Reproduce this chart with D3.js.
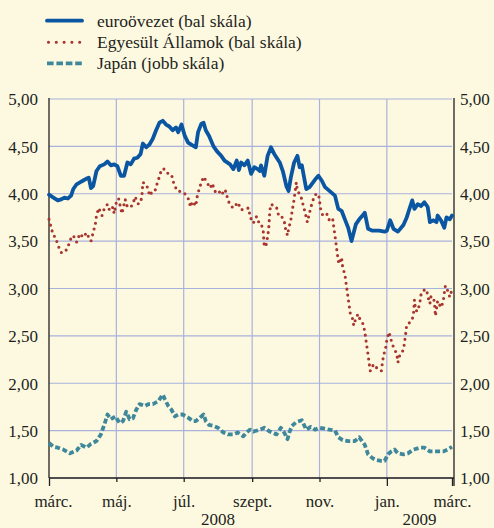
<!DOCTYPE html>
<html>
<head>
<meta charset="utf-8">
<script src="https://cdn.jsdelivr.net/npm/d3@7"></script>
<style>
    body { margin: 0; background: #fdf9e0; }
    svg { display: block; }
    svg text { font-family: "Liberation Serif", "DejaVu Serif", serif; }
</style>
</head>
<body>
<div id="chart"></div>
<script>
// 10 éves államkötvényhozamok, %
const euroArea = [
    ["2008-03-01", 3.99], ["2008-03-05", 3.96], ["2008-03-09", 3.93], ["2008-03-12", 3.94], ["2008-03-15", 3.96],
    ["2008-03-18", 3.95], ["2008-03-21", 3.98], ["2008-03-23", 4.05], ["2008-03-26", 4.10], ["2008-03-29", 4.12],
    ["2008-04-01", 4.14], ["2008-04-04", 4.16], ["2008-04-06", 4.17], ["2008-04-08", 4.06], ["2008-04-10", 4.08],
    ["2008-04-13", 4.24], ["2008-04-16", 4.29], ["2008-04-20", 4.31], ["2008-04-23", 4.34], ["2008-04-26", 4.30],
    ["2008-04-29", 4.31], ["2008-05-02", 4.29], ["2008-05-05", 4.19], ["2008-05-08", 4.19], ["2008-05-11", 4.33],
    ["2008-05-14", 4.31], ["2008-05-17", 4.37], ["2008-05-20", 4.38], ["2008-05-23", 4.42], ["2008-05-25", 4.53],
    ["2008-05-28", 4.49], ["2008-05-31", 4.52], ["2008-06-03", 4.58], ["2008-06-06", 4.67], ["2008-06-09", 4.75],
    ["2008-06-12", 4.77], ["2008-06-15", 4.73], ["2008-06-18", 4.71], ["2008-06-21", 4.67], ["2008-06-24", 4.70],
    ["2008-06-26", 4.65], ["2008-06-29", 4.73], ["2008-07-02", 4.61], ["2008-07-05", 4.54], ["2008-07-09", 4.51],
    ["2008-07-12", 4.49], ["2008-07-14", 4.65], ["2008-07-17", 4.74], ["2008-07-19", 4.75], ["2008-07-21", 4.67],
    ["2008-07-24", 4.61], ["2008-07-28", 4.50], ["2008-07-31", 4.45], ["2008-08-04", 4.40], ["2008-08-07", 4.35],
    ["2008-08-12", 4.31], ["2008-08-15", 4.26], ["2008-08-18", 4.35], ["2008-08-20", 4.25], ["2008-08-22", 4.33],
    ["2008-08-25", 4.30], ["2008-08-28", 4.35], ["2008-08-31", 4.21], ["2008-09-03", 4.28], ["2008-09-06", 4.26],
    ["2008-09-08", 4.24], ["2008-09-09", 4.30], ["2008-09-12", 4.19], ["2008-09-15", 4.40], ["2008-09-18", 4.49],
    ["2008-09-21", 4.42], ["2008-09-26", 4.33], ["2008-09-29", 4.23], ["2008-10-02", 4.08], ["2008-10-04", 4.03],
    ["2008-10-06", 4.17], ["2008-10-09", 4.33], ["2008-10-12", 4.40], ["2008-10-14", 4.28], ["2008-10-16", 4.30],
    ["2008-10-20", 4.05], ["2008-10-23", 4.07], ["2008-10-28", 4.15], ["2008-10-31", 4.19], ["2008-11-03", 4.14],
    ["2008-11-06", 4.07], ["2008-11-10", 4.03], ["2008-11-15", 3.98], ["2008-11-18", 3.84], ["2008-11-21", 3.82],
    ["2008-11-24", 3.73], ["2008-11-27", 3.64], ["2008-11-30", 3.50], ["2008-12-02", 3.59], ["2008-12-04", 3.68],
    ["2008-12-07", 3.73], ["2008-12-10", 3.77], ["2008-12-12", 3.80], ["2008-12-15", 3.63], ["2008-12-19", 3.61],
    ["2008-12-25", 3.61], ["2008-12-30", 3.60], ["2009-01-01", 3.61], ["2009-01-04", 3.72], ["2009-01-07", 3.63],
    ["2009-01-11", 3.60], ["2009-01-16", 3.67], ["2009-01-19", 3.75], ["2009-01-22", 3.86], ["2009-01-24", 3.93],
    ["2009-01-26", 3.84], ["2009-01-29", 3.89], ["2009-02-01", 3.87], ["2009-02-04", 3.91], ["2009-02-07", 3.86],
    ["2009-02-09", 3.70], ["2009-02-12", 3.72], ["2009-02-15", 3.70], ["2009-02-16", 3.77], ["2009-02-19", 3.72],
    ["2009-02-22", 3.64], ["2009-02-24", 3.75], ["2009-02-27", 3.73], ["2009-03-01", 3.77]
];

const unitedStates = [
    ["2008-03-01", 3.73], ["2008-03-03", 3.64], ["2008-03-05", 3.56], ["2008-03-07", 3.54], ["2008-03-09", 3.46],
    ["2008-03-12", 3.38], ["2008-03-15", 3.38], ["2008-03-18", 3.43], ["2008-03-20", 3.51], ["2008-03-23", 3.56],
    ["2008-03-26", 3.49], ["2008-03-29", 3.58], ["2008-04-01", 3.54], ["2008-04-04", 3.59], ["2008-04-06", 3.54],
    ["2008-04-08", 3.50], ["2008-04-10", 3.59], ["2008-04-12", 3.68], ["2008-04-13", 3.77], ["2008-04-15", 3.85],
    ["2008-04-18", 3.77], ["2008-04-20", 3.84], ["2008-04-23", 3.89], ["2008-04-25", 3.82], ["2008-04-28", 3.86],
    ["2008-04-29", 3.79], ["2008-05-01", 3.91], ["2008-05-03", 3.95], ["2008-05-06", 3.79], ["2008-05-09", 3.94],
    ["2008-05-11", 3.86], ["2008-05-14", 3.86], ["2008-05-16", 3.89], ["2008-05-18", 3.97], ["2008-05-21", 3.89],
    ["2008-05-24", 3.95], ["2008-05-25", 4.12], ["2008-05-28", 4.10], ["2008-05-30", 4.04], ["2008-05-31", 3.98],
    ["2008-06-03", 4.03], ["2008-06-05", 4.03], ["2008-06-07", 4.11], ["2008-06-09", 4.18], ["2008-06-11", 4.26],
    ["2008-06-14", 4.26], ["2008-06-17", 4.21], ["2008-06-20", 4.20], ["2008-06-22", 4.11], ["2008-06-25", 4.03],
    ["2008-06-30", 4.02], ["2008-07-03", 3.99], ["2008-07-06", 3.93], ["2008-07-07", 3.86], ["2008-07-09", 3.92],
    ["2008-07-12", 3.87], ["2008-07-13", 3.96], ["2008-07-15", 4.05], ["2008-07-17", 4.12], ["2008-07-19", 4.18],
    ["2008-07-22", 4.12], ["2008-07-25", 4.06], ["2008-07-27", 4.11], ["2008-07-29", 4.03], ["2008-08-01", 4.00],
    ["2008-08-04", 4.04], ["2008-08-06", 3.99], ["2008-08-08", 4.03], ["2008-08-10", 3.94], ["2008-08-12", 3.88],
    ["2008-08-15", 3.85], ["2008-08-19", 3.91], ["2008-08-22", 3.83], ["2008-08-25", 3.84], ["2008-08-29", 3.85],
    ["2008-08-30", 3.76], ["2008-09-02", 3.69], ["2008-09-05", 3.76], ["2008-09-07", 3.70], ["2008-09-09", 3.69],
    ["2008-09-11", 3.61], ["2008-09-12", 3.44], ["2008-09-14", 3.47], ["2008-09-15", 3.55], ["2008-09-16", 3.63],
    ["2008-09-17", 3.82], ["2008-09-18", 3.89], ["2008-09-21", 3.87], ["2008-09-23", 3.86], ["2008-09-25", 3.77],
    ["2008-09-27", 3.77], ["2008-09-30", 3.72], ["2008-10-01", 3.64], ["2008-10-03", 3.56], ["2008-10-04", 3.63],
    ["2008-10-06", 3.72], ["2008-10-07", 3.80], ["2008-10-09", 3.94], ["2008-10-11", 4.12], ["2008-10-12", 4.03],
    ["2008-10-15", 3.98], ["2008-10-17", 3.89], ["2008-10-19", 3.80], ["2008-10-21", 3.70], ["2008-10-22", 3.75],
    ["2008-10-24", 3.85], ["2008-10-26", 3.93], ["2008-10-28", 3.99], ["2008-10-31", 4.00], ["2008-11-01", 3.93],
    ["2008-11-02", 3.84], ["2008-11-04", 3.77], ["2008-11-07", 3.79], ["2008-11-09", 3.77], ["2008-11-10", 3.71],
    ["2008-11-13", 3.73], ["2008-11-14", 3.64], ["2008-11-15", 3.56], ["2008-11-16", 3.47], ["2008-11-17", 3.38],
    ["2008-11-18", 3.29], ["2008-11-19", 3.26], ["2008-11-21", 3.33], ["2008-11-22", 3.22], ["2008-11-24", 3.15],
    ["2008-11-25", 3.06], ["2008-11-26", 2.98], ["2008-11-27", 2.89], ["2008-11-29", 2.73], ["2008-12-01", 2.68],
    ["2008-12-02", 2.61], ["2008-12-04", 2.69], ["2008-12-06", 2.73], ["2008-12-07", 2.69], ["2008-12-10", 2.64],
    ["2008-12-12", 2.55], ["2008-12-13", 2.46], ["2008-12-14", 2.38], ["2008-12-15", 2.30], ["2008-12-16", 2.21],
    ["2008-12-17", 2.13], ["2008-12-20", 2.20], ["2008-12-23", 2.16], ["2008-12-27", 2.13], ["2008-12-28", 2.22],
    ["2008-12-29", 2.29], ["2008-12-31", 2.38], ["2009-01-01", 2.46], ["2009-01-03", 2.54], ["2009-01-05", 2.45],
    ["2009-01-07", 2.38], ["2009-01-10", 2.31], ["2009-01-11", 2.22], ["2009-01-13", 2.31], ["2009-01-16", 2.35],
    ["2009-01-17", 2.43], ["2009-01-18", 2.52], ["2009-01-19", 2.62], ["2009-01-23", 2.65], ["2009-01-25", 2.71],
    ["2009-01-26", 2.88], ["2009-01-27", 2.77], ["2009-01-29", 2.76], ["2009-01-31", 2.86], ["2009-02-01", 2.94],
    ["2009-02-03", 2.98], ["2009-02-06", 2.99], ["2009-02-07", 2.92], ["2009-02-09", 2.84], ["2009-02-10", 2.92],
    ["2009-02-13", 2.87], ["2009-02-14", 2.71], ["2009-02-16", 2.87], ["2009-02-19", 2.80], ["2009-02-21", 2.86],
    ["2009-02-22", 2.95], ["2009-02-23", 3.03], ["2009-02-25", 2.98], ["2009-02-27", 2.91], ["2009-03-01", 2.99]
];

const japan = [
    ["2008-03-01", 1.37], ["2008-03-05", 1.33], ["2008-03-09", 1.32], ["2008-03-14", 1.30], ["2008-03-20", 1.26],
    ["2008-03-26", 1.29], ["2008-03-30", 1.35], ["2008-04-04", 1.32], ["2008-04-08", 1.36], ["2008-04-13", 1.39],
    ["2008-04-17", 1.46], ["2008-04-20", 1.56], ["2008-04-23", 1.67], ["2008-04-26", 1.62], ["2008-04-30", 1.65],
    ["2008-05-04", 1.58], ["2008-05-07", 1.60], ["2008-05-10", 1.70], ["2008-05-13", 1.62], ["2008-05-16", 1.63],
    ["2008-05-19", 1.72], ["2008-05-22", 1.78], ["2008-05-27", 1.76], ["2008-05-30", 1.78], ["2008-06-03", 1.78],
    ["2008-06-08", 1.81], ["2008-06-12", 1.88], ["2008-06-14", 1.83], ["2008-06-17", 1.76], ["2008-06-20", 1.72],
    ["2008-06-23", 1.65], ["2008-06-26", 1.67], ["2008-06-30", 1.67], ["2008-07-03", 1.65], ["2008-07-06", 1.63],
    ["2008-07-09", 1.60], ["2008-07-12", 1.60], ["2008-07-15", 1.63], ["2008-07-19", 1.67], ["2008-07-21", 1.60],
    ["2008-07-24", 1.56], ["2008-07-28", 1.55], ["2008-08-01", 1.53], ["2008-08-06", 1.48], ["2008-08-10", 1.46],
    ["2008-08-15", 1.46], ["2008-08-19", 1.48], ["2008-08-24", 1.44], ["2008-08-27", 1.48], ["2008-08-30", 1.51],
    ["2008-09-02", 1.49], ["2008-09-08", 1.51], ["2008-09-12", 1.53], ["2008-09-17", 1.49], ["2008-09-23", 1.46],
    ["2008-09-27", 1.53], ["2008-09-30", 1.48], ["2008-10-03", 1.41], ["2008-10-05", 1.49], ["2008-10-07", 1.55],
    ["2008-10-11", 1.59], ["2008-10-16", 1.61], ["2008-10-20", 1.51], ["2008-10-24", 1.54], ["2008-10-28", 1.51],
    ["2008-11-01", 1.53], ["2008-11-06", 1.52], ["2008-11-10", 1.51], ["2008-11-15", 1.50], ["2008-11-18", 1.43],
    ["2008-11-22", 1.40], ["2008-11-27", 1.39], ["2008-11-30", 1.39], ["2008-12-03", 1.39], ["2008-12-07", 1.43],
    ["2008-12-12", 1.35], ["2008-12-15", 1.25], ["2008-12-19", 1.21], ["2008-12-22", 1.19], ["2008-12-27", 1.18],
    ["2008-12-30", 1.18], ["2009-01-02", 1.25], ["2009-01-05", 1.28], ["2009-01-08", 1.30], ["2009-01-11", 1.26],
    ["2009-01-16", 1.25], ["2009-01-20", 1.26], ["2009-01-25", 1.30], ["2009-01-31", 1.32], ["2009-02-04", 1.32],
    ["2009-02-09", 1.28], ["2009-02-13", 1.28], ["2009-02-18", 1.28], ["2009-02-21", 1.28], ["2009-02-25", 1.30],
    ["2009-03-01", 1.33]
];

const yTicks = [1, 1.5, 2, 2.5, 3, 3.5, 4, 4.5, 5];
const monthTicks = ["2008-03-01", "2008-05-01", "2008-07-01", "2008-09-01", "2008-11-01", "2009-01-01", "2009-03-01"];
const monthLabels = ["márc.", "máj.", "júl.", "szept.", "nov.", "jan.", "márc."];
const yearStarts = ["2008-03-01", "2009-01-01", "2009-03-01"];
const yearLabels = ["2008", "2009"];
const seriesNames = ["euroövezet (bal skála)", "Egyesült Államok (bal skála)", "Japán (jobb skála)"];

const width = 494;
const height = 528;
const margin = {top: 99, right: 42, bottom: 50, left: 49};
const ink = "#231f20";
const gridColor = "#a9b2dc";
const serif = "'Liberation Serif', 'DejaVu Serif', serif";

const parseDate = d3.timeParse("%Y-%m-%d");
const fmt = d => d3.format(".2f")(d).replace(".", ",");

const x = d3.scaleTime()
    .domain([parseDate("2008-03-01"), parseDate("2009-03-01")])
    .range([margin.left, width - margin.right]);

const y = d3.scaleLinear()
    .domain([1, 5])
    .range([height - margin.bottom, margin.top]);

const svg = d3.select("#chart")
    .append("svg")
    .attr("width", width)
    .attr("height", height)
    .attr("font-family", serif)
    .style("background", "#fdf9e0");

// rácsvonalak
svg.append("g")
    .attr("stroke", gridColor)
    .attr("stroke-width", 1.2)
    .selectAll("line")
    .data(yTicks)
    .join("line")
    .attr("x1", x.range()[0])
    .attr("x2", x.range()[1])
    .attr("y1", d => y(d))
    .attr("y2", d => y(d));

svg.append("g")
    .attr("stroke", gridColor)
    .attr("stroke-width", 1.2)
    .selectAll("line")
    .data(monthTicks.slice(1, -1).map(parseDate))
    .join("line")
    .attr("x1", d => x(d))
    .attr("x2", d => x(d))
    .attr("y1", y(5))
    .attr("y2", y(1));

// tengelyek
const leftAxis = svg.append("g")
    .attr("transform", "translate(" + x.range()[0] + ",0)")
    .call(d3.axisLeft(y).tickValues(yTicks).tickSize(0).tickPadding(11).tickFormat(fmt));

const rightAxis = svg.append("g")
    .attr("transform", "translate(" + (x.range()[1] + 2) + ",0)")
    .call(d3.axisRight(y).tickValues(yTicks).tickSize(0).tickPadding(6).tickFormat(fmt));

const bottomAxis = svg.append("g")
    .attr("transform", "translate(0," + y(1) + ")")
    .call(d3.axisBottom(x).tickValues(monthTicks.map(parseDate)).tickSize(4).tickPadding(13)
        .tickFormat((d, i) => monthLabels[i]));

[leftAxis, rightAxis, bottomAxis].forEach(g => {
    g.attr("font-family", serif).attr("font-size", 17);
    g.selectAll("text").attr("fill", ink).attr("font-family", serif);
    g.selectAll("line").attr("stroke", ink).attr("stroke-width", 1.3);
    g.select(".domain").remove();
});

leftAxis.selectAll("text").attr("dy", "0.34em");
rightAxis.selectAll("text").attr("dy", "0.34em");

// évhatárokon hosszabb osztás
bottomAxis.selectAll(".tick line")
    .attr("y2", d => yearStarts.includes(d3.timeFormat("%Y-%m-%d")(d)) ? 8 : 4);
bottomAxis.select(".tick text").attr("dx", 4);

svg.append("g")
    .attr("stroke", ink)
    .attr("stroke-width", 1.3)
    .attr("fill", "none")
    .call(g => g.append("line")
        .attr("x1", x.range()[0]).attr("x2", x.range()[0])
        .attr("y1", y(5) - 1).attr("y2", y(1)))
    .call(g => g.append("line")
        .attr("x1", x.range()[1] + 2).attr("x2", x.range()[1] + 2)
        .attr("y1", y(5) - 1).attr("y2", y(1) + 8))
    .call(g => g.append("line")
        .attr("x1", x.range()[0]).attr("x2", x.range()[1] + 2)
        .attr("y1", y(1)).attr("y2", y(1)));

svg.append("g")
    .attr("font-size", 17)
    .attr("font-family", serif)
    .attr("fill", ink)
    .attr("text-anchor", "middle")
    .selectAll("text")
    .data(yearLabels)
    .join("text")
    .attr("x", (d, i) => (x(parseDate(yearStarts[i])) + x(parseDate(yearStarts[i + 1]))) / 2)
    .attr("y", height - 3)
    .text(d => d);

// adatsorok
const line = d3.line()
    .x(d => x(parseDate(d[0])))
    .y(d => y(d[1]));

const styles = [
    {color: "#0b56a2", width: 3.8, dash: null, cap: "round"},
    {color: "#a8352f", width: 3.1, dash: "0,6", cap: "round"},
    {color: "#3f889b", width: 3.8, dash: "5,2.6", cap: "butt"}
];

const seriesData = [euroArea, unitedStates, japan];

svg.append("g")
    .attr("fill", "none")
    .selectAll("path")
    .data([1, 2, 0])
    .join("path")
    .attr("d", i => line(seriesData[i]))
    .attr("stroke", i => styles[i].color)
    .attr("stroke-width", i => styles[i].width)
    .attr("stroke-dasharray", i => styles[i].dash)
    .attr("stroke-linecap", i => styles[i].cap)
    .attr("stroke-linejoin", "round");

// jelmagyarázat
const legend = svg.append("g")
    .selectAll("g")
    .data(seriesNames)
    .join("g")
    .attr("transform", (d, i) => "translate(47," + [20.7, 42.3, 63.3][i] + ")");

legend.append("line")
    .attr("x1", (d, i) => i === 1 ? 1.5 : 0)
    .attr("x2", 35)
    .attr("stroke", (d, i) => styles[i].color)
    .attr("stroke-width", (d, i) => styles[i].width)
    .attr("stroke-dasharray", (d, i) => [null, "0,7.8", "6.6,2.8"][i])
    .attr("stroke-linecap", (d, i) => styles[i].cap);

legend.append("text")
    .attr("x", 50)
    .attr("y", 5.8)
    .attr("font-size", 17.5)
    .attr("font-family", serif)
    .attr("fill", ink)
    .text(d => d);
</script>
</body>
</html>
